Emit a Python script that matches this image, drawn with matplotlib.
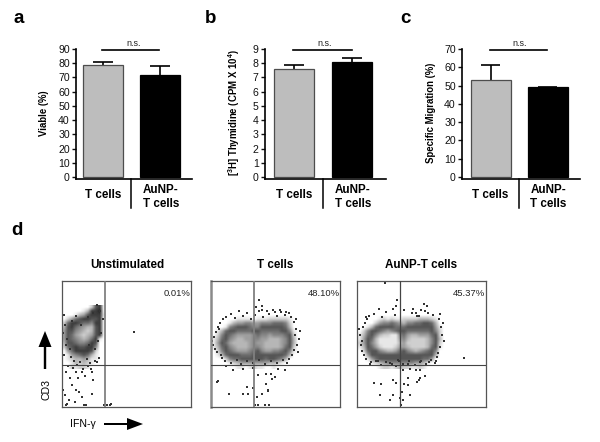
import matplotlib
matplotlib.use("Agg")
import matplotlib.pyplot as plt
import numpy as np

plt.rcParams['font.family'] = ['Liberation Sans', 'DejaVu Sans']
W, H = 600, 442

# ---------- data ----------
groups = ["T cells", "AuNP-\nT cells"]
viable = [78.5, 72]
viable_top = [81, 78]
thymidine = [7.6, 8.1]
thymidine_top = [7.85, 8.4]
migration = [53, 49]
migration_top = [61, 49.3]
letters = ["a", "b", "c", "d"]
flow_titles = ["Unstimulated", "T cells", "AuNP-T cells"]
flow_pct = ["0.01%", "48.10%", "45.37%"]

# flow density (darkness 0-9), top row first
dens_un = ["00000002780","00000138890","00013478881","02467887780","26887665880",
           "37865433780","47754323780","47643234780","47654346810","37765568700",
           "26787788500","04688887200","01456763100","01233431100","00132321000","00212210000"]
dens_t = ["0000000000000000000000","0000000000000000000000","0000001111011122222100",
          "0000134455445556665200","0001567776557777776300","0136776666776666677510",
          "0257654444565545556720","1367543344554433345730","1476433334544333345730",
          "1367543334554333346720","0257654445675445567510","0136777666777777776300",
          "0002566777777677653000","0000123444444433210000","0000001101211001000000"]
dens_au = ["0000000000000000000000","0000000000000000000000","0000012121122223332100",
           "0000245565435566776300","0013677776667777777410","0257765456776666667520",
           "1367532211564334446720","1476311111453222235730","2475311111342222235720",
           "1376421112443222236710","0267754334675434567500","0047777777777777777300",
           "0014677777777777664000","0001234555555544310000","0000012212322112100000"]

# isolated events: IFN-gamma, CD3 (panel scale 0-130, 0-126)
ifn_un = [4,8,1,3,10,14,16,20,23,30,31,14,17,20,7,4,5,13,22,24,30,42,45,48,49,72,
          9,12,18,25,28,33,6,11,15,21,26,29,35,37,
          2,3,1,5,8,4,2,27,33,36,39,41,38,35,31,26,10,14,19]
cd3_un = [35,29,17,12,22,35,29,35,31,35,27,17,15,10,7,2,3,5,2,2,13,2,2,2,3,75,
          50,46,45,48,44,46,41,39,42,38,41,38,45,49,
          92,82,74,68,58,62,52,62,58,66,74,88,96,102,94,90,86,91,82]
ifn_t = [15,22,32,42,47,55,60,67,74,64,61,36,32,37,18,6,7,51,57,57,55,54,47,44,58,46,42,48,45,51,56,64,69,75,51,
         3,2,5,4,7,6,1,9,10,12,8,11,15,20,24,28,32,36,40,44,48,52,58,62,66,70,74,78,80,
         83,85,84,88,86,83,81,78,85,89,87,14,20,26,30,36,42,48,54,60,66,72,76]
cd3_t = [41,37,38,39,32,33,33,38,37,30,28,20,13,13,13,25,26,13,16,17,23,2,2,2,2,10,19,107,100,97,96,95,97,95,101,
         70,62,75,58,80,55,66,84,52,88,78,49,90,93,89,96,91,94,88,92,96,90,93,97,91,95,92,94,90,
         85,78,72,68,62,57,52,48,88,76,55,46,44,47,43,46,44,47,43,46,44,47,44]
ifn_au = [17,24,36,39,39,46,53,59,63,68,63,60,51,47,51,45,36,43,33,23,53,44,46,62,28,22,9,36,39,40,56,64,70,67,59,71,83,62,107,
          3,4,6,5,8,7,10,9,12,14,17,21,25,29,33,38,42,47,51,55,60,64,68,72,76,79,
          82,84,85,87,83,81,80,86,13,19,24,29,35,41,46,52,58,63,69,74,78,5,2]
cd3_au = [24,23,27,24,41,37,38,37,37,31,29,25,29,23,22,15,12,9,7,12,12,2,7,27,124,98,90,98,101,107,98,97,101,103,94,94,93,91,49,
          72,62,80,56,84,52,88,48,91,45,93,46,90,95,44,92,46,97,43,94,91,46,96,45,92,46,
          88,80,72,66,60,54,50,84,43,46,42,45,43,47,43,46,42,45,43,47,44,66,78]

# ---------- helpers ----------
fig = plt.figure(figsize=(W / 100, H / 100), dpi=100, facecolor="white")

def fx(x):
    return x / W

def fy(y):
    return 1 - y / H

def add_ax(x0, x1, ytop, ybot):
    return fig.add_axes([fx(x0), fy(ybot), (x1 - x0) / W, (ybot - ytop) / H])

def line(xs, ys, **kw):
    fig.add_artist(plt.Line2D([fx(x) for x in xs], [fy(y) for y in ys], **kw))

def bar_panel(x0, x1, centers, sep, vals, tops, ymax, step, ylabel, ylab_x, ns_x, ns_text_x, bar_w):
    y_zero, y_top, y_bot = 177, 49, 178.5
    ax = add_ax(x0, x1, y_top, y_bot)
    unit = centers[1] - centers[0]
    ax.set_xlim((x0 - centers[0]) / unit, (x1 - centers[0]) / unit)
    per = (y_zero - y_top) / ymax
    ax.set_ylim(-(y_bot - y_zero) / per, ymax)
    colors = ["#bdbdbd", "#000000"]
    edges = ["#4d4d4d", "#000000"]
    for i in range(2):
        ax.plot([i, i], [vals[i], tops[i]], color="k", lw=1.2, zorder=1, solid_capstyle="butt")
        ax.plot([i - 0.17, i + 0.17], [tops[i], tops[i]], color="k", lw=1.2, zorder=1, solid_capstyle="butt")
        ax.bar(i, vals[i], width=bar_w / unit, color=colors[i], edgecolor=edges[i], lw=0.9, zorder=2)
    for s in ("top", "right"):
        ax.spines[s].set_visible(False)
    for s in ("left", "bottom"):
        ax.spines[s].set_linewidth(1.2)
    ax.set_xticks([])
    ax.set_yticks(np.arange(0, ymax + 1, step))
    ax.tick_params(axis="y", labelsize=7.6, length=3, width=1, pad=1.5, colors="#111111")
    fig.text(fx(ylab_x), fy(113), ylabel, rotation=90, fontsize=6.9, fontweight="bold", ha="center", va="center")
    line([sep, sep], [178.5, 207.5], color="k", lw=1.1)
    fig.text(fx(centers[0]), fy(195), groups[0], fontsize=8.4, fontweight="bold", ha="center", va="center")
    fig.text(fx(centers[1] + 1), fy(197), groups[1], fontsize=8.4, fontweight="bold", ha="center", va="center", linespacing=1.15)
    line(ns_x, [50, 50], color="k", lw=1.2)
    fig.text(fx(ns_text_x), fy(43), "n.s.", fontsize=6.5, ha="center", va="center", color="#222222")

# ---------- bar panels ----------
bar_panel(76, 192, [103, 160], 131, viable, viable_top, 90, 10, "Viable (%)", 44, [102, 159], 134, 40)
bar_panel(265, 386, [294, 352], 323, thymidine, thymidine_top, 9, 1,
          r"[$\mathregular{^{3}}$H] Thymidine (CPM X 10$\mathregular{^{4}}$)", 234, [293, 352], 325, 40)
bar_panel(462, 580, [490.5, 547.5], 519, migration, migration_top, 70, 10, "Specific Migration (%)", 431, [490, 547], 520, 40)

# ---------- panel letters ----------
for s, (x, y) in zip(letters, [(19, 23), (211, 23), (405, 23), (17, 235)]):
    fig.text(fx(x), fy(y), s, fontsize=13.5, fontweight="bold", ha="center", va="baseline")

# ---------- flow panels ----------
def flow(x0, dens, dens_x, dens_y, ifn, cd3, title, pct, title_x, vcol, vlw, left_lw):
    x1 = x0 + 129
    ax = add_ax(x0, x1, 281, 407)
    arr = np.array([[int(c) for c in r] for r in dens], float)
    extent = (dens_x - x0, dens_x - x0 + 4 * arr.shape[1], 407 - (dens_y + 4 * arr.shape[0]), 407 - dens_y)
    ax.imshow(arr, cmap="gray_r", vmin=0, vmax=10.5, extent=extent, aspect="auto",
              interpolation="bilinear", zorder=1)
    ax.scatter(ifn, cd3, s=1.5, marker="s", color="#333333", lw=0, zorder=2)
    ax.set_xlim(0, 129)
    ax.set_ylim(0, 126)
    ax.axvline(42.5, color=vcol, lw=vlw, zorder=3)
    ax.axhline(42, color="#444444", lw=0.8, zorder=3)
    ax.set_xticks([])
    ax.set_yticks([])
    for s in ax.spines.values():
        s.set_color("#555555")
        s.set_linewidth(0.9)
    ax.spines["left"].set_linewidth(left_lw)
    ax.spines["left"].set_color("#8a8a8a" if left_lw > 1 else "#555555")
    fig.text(fx(title_x), fy(265), title, fontsize=8.4, fontweight="bold", ha="center", va="center")
    fig.text(fx(x1 - 0.5), fy(293), pct, fontsize=6.8, ha="right", va="center", color="#222222")

flow(62, dens_un, 62, 305, ifn_un, cd3_un, flow_titles[0], flow_pct[0], 127, "#777777", 1.2, 0.9)
flow(211, dens_t, 212, 309, ifn_t, cd3_t, flow_titles[1], flow_pct[1], 275, "#808080", 1.3, 1.8)
flow(357, dens_au, 358, 309, ifn_au, cd3_au, flow_titles[2], flow_pct[2], 421, "#444444", 0.9, 0.9)

# ---------- axis arrows ----------
ov = fig.add_axes([0, 0, 1, 1], facecolor="none")
ov.set_xlim(0, W)
ov.set_ylim(H, 0)
ov.axis("off")
ov.fill([45 - 1.2, 45 + 1.2, 45 + 1.2, 45 + 6.5, 45, 45 - 6.5, 45 - 1.2],
        [369, 369, 347, 347, 331, 347, 347], color="k", lw=0)
ov.fill([104, 127, 127, 143, 127, 127, 104],
        [423, 423, 418, 424, 430, 425, 425], color="k", lw=0)
fig.text(fx(46), fy(389), "CD3", rotation=90, fontsize=7.6, ha="center", va="center")
fig.text(fx(83), fy(424), "IFN-γ", fontsize=7.6, ha="center", va="center")

fig.savefig("out.png", dpi=100, facecolor="white")
